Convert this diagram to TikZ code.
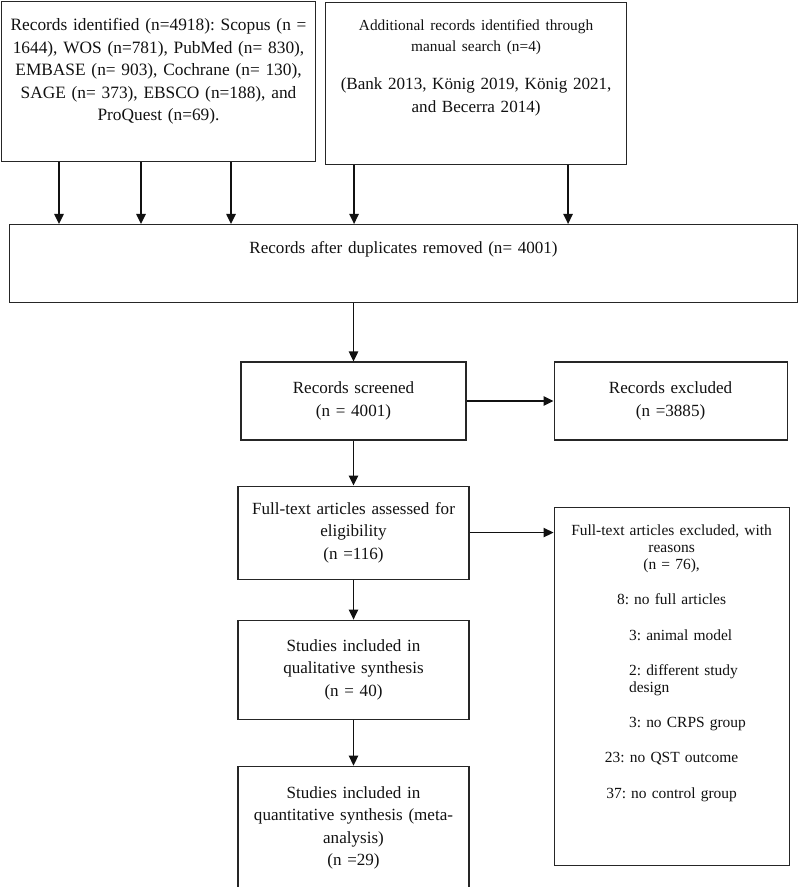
\documentclass[tikz,border=0pt]{standalone}
\usepackage{fontspec}
\setmainfont{Liberation Serif}
\usepackage{tikz}
\usetikzlibrary{arrows.meta,positioning}
\definecolor{Ink}{HTML}{111111}
\definecolor{Frame}{HTML}{262626}
\frenchspacing
\newcommand{\reason}[1]{\makebox[\linewidth][l]{\hspace{56.25pt}#1}}
\tikzset{box/.style={draw=Frame,line width=0.8pt,inner sep=0pt,align=center,
    text=Ink,font=\fontsize{12.8}{16.9}\selectfont},
  flowbox/.style={box,minimum width=173.25pt,text width=165pt},
  edge/.style={-{Triangle[length=7.5pt,width=7pt]},line width=1.1pt,draw=Ink}}

\begin{document}
\begin{tikzpicture}[x=0.75pt,y=-0.75pt]
    \useasboundingbox (0,0) rectangle (798,887);
    \node[box,anchor=north west,minimum width=235.5pt,text width=230pt,text height=21.9pt,
      text depth=98.1pt,font=\fontsize{13}{16.9}\selectfont] (found) at (1,1)
      {Records identified (n=4918): Scopus (n =\\1644), WOS (n=781), PubMed (n= 830),\\EMBASE (n= 903), Cochrane (n= 130),\\SAGE (n= 373), EBSCO (n=188), and\\ProQuest (n=69).};
    \node[box,right=6.75pt of found.north east,anchor=north west,yshift=-0.75pt,minimum width=225.75pt,
      text width=220pt,text height=20.7pt,text depth=100.8pt] (manual)
      {\fontsize{11.5}{15.75}\selectfont Additional records identified through\\manual search (n=4)\\[12pt]\fontsize{12.8}{16.9}\selectfont (Bank 2013, König 2019, König 2021,\\and Becerra 2014)};
    \node[box,anchor=north west,minimum width=591pt,text width=580pt,text height=21.8pt,
      text depth=36.7pt] (dedup) at (9,224) {Records after duplicates removed (n= 4001)};
    \node[box,minimum width=168.75pt,minimum height=58.5pt,text width=160pt] (screened) at (353.5,401)
      {Records screened\\(n = 4001)};
    \node[box,right=65.25pt of screened,minimum width=174.75pt,minimum height=58.5pt,text width=165pt] (excluded)
      {Records excluded\\(n =3885)};
    \node[flowbox,below=33.75pt of screened,minimum height=69.75pt] (fulltext)
      {Full-text articles assessed for\\eligibility\\(n =116)};
    \node[flowbox,below=30pt of fulltext,minimum height=74.25pt] (qual)
      {Studies included in\\qualitative synthesis\\(n = 40)};
    \node[flowbox,below=34.5pt of qual,minimum height=92.25pt] (quant)
      {Studies included in\\quantitative synthesis (meta-\\analysis)\\(n =29)};
    \node[box,below=49.5pt of excluded.south west,anchor=north west,minimum width=176.25pt,text width=176.25pt,
      text height=21.1pt,text depth=247.4pt,font=\fontsize{11.6}{12.9}\selectfont] (fullout)
      {Full-text articles excluded, with\\reasons\\(n = 76),\\[13.5pt]8: no full articles\\[13.5pt]\reason{3: animal model}\\[13.5pt]\reason{2: different study}\\\reason{design}\\[13.5pt]\reason{3: no CRPS group}\\[13.5pt]23: no QST outcome\\[13.5pt]37: no control group};
    \foreach \dx in {43.5,105,172.5}
      \draw[edge] ([xshift=\dx pt]found.south west) coordinate (s) -- (s |- dedup.north);
    \foreach \dx in {21.75,182.25}
      \draw[edge] ([xshift=\dx pt]manual.south west) coordinate (s) -- (s |- dedup.north);
    \draw[edge] (screened.north |- dedup.south) -- (screened.north);
    \draw[edge] (screened) -- (excluded);
    \draw[edge] (screened) -- (fulltext);
    \draw[edge] (fulltext.east) -- (fulltext.east -| fullout.west);
    \draw[edge] (fulltext) -- (qual);
    \draw[edge] (qual) -- (quant);
\end{tikzpicture}
\end{document}
